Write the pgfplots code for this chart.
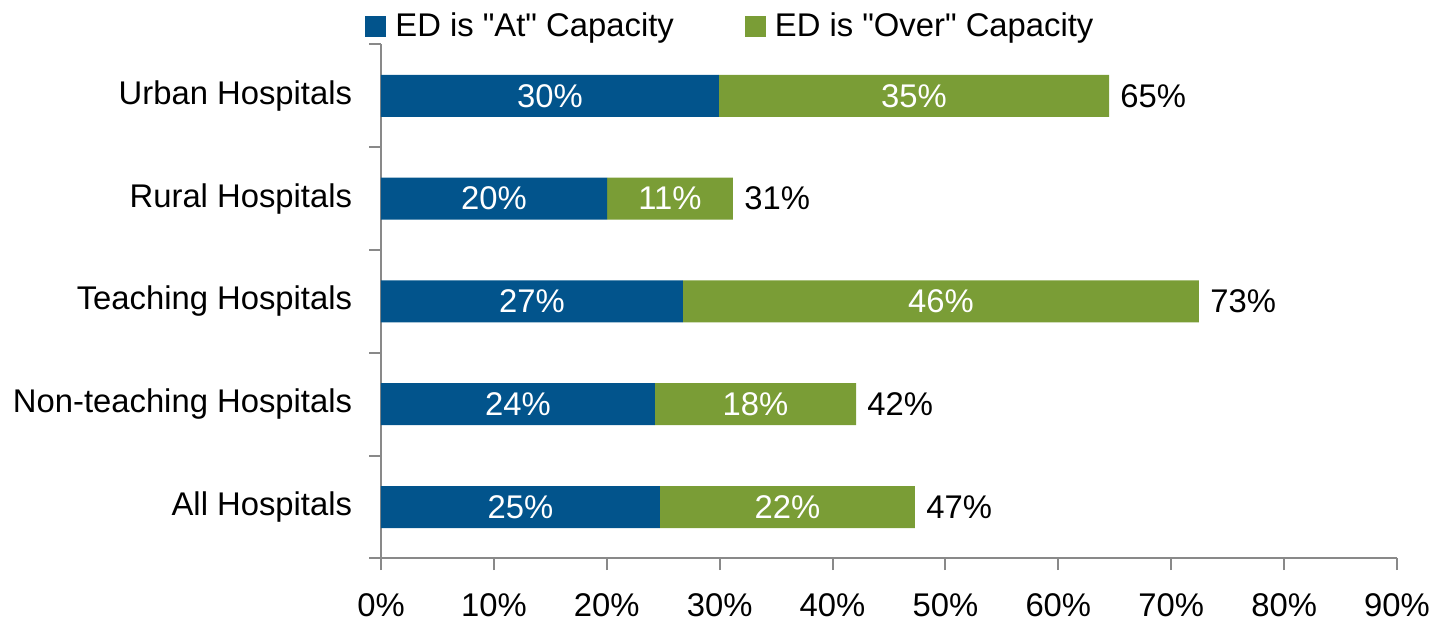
\documentclass[border=0pt]{standalone}
\usepackage{pgfplots}
\pgfplotsset{compat=1.18}
\usepackage{pgfplotstable}
\usepackage{fontspec}
\setmainfont{Liberation Sans}
\definecolor{atblue}{RGB}{2,84,140}
\definecolor{overgreen}{RGB}{122,157,54}
\definecolor{axgray}{RGB}{137,137,137}

\pgfplotstableread{
y at over atlab overlab totlab
0 24.71 22.59 25 22 47
1 24.27 17.81 24 18 42
2 26.75 45.71 27 46 73
3 20.02 11.16 20 11 31
4 29.94 34.55 30 35 65
}\datatable

\pgfplotsset{base/.style={
  scale only axis, width=508pt, height=257pt,
  xmin=0, xmax=90, ymin=-0.5, ymax=4.5,
}}

\begin{document}
\fontsize{16.4}{19.5}\selectfont
\begin{tikzpicture}
\begin{axis}[base,
  xbar stacked, bar width=21pt,
  axis lines*=left,
  axis line style={axgray, line width=1pt},
  xtick={0,10,...,90},
  xticklabels={0\%,10\%,20\%,30\%,40\%,50\%,60\%,70\%,80\%,90\%},
  ytick={0,1,2,3,4},
  yticklabels={All Hospitals, Non-teaching Hospitals, Teaching Hospitals, Rural Hospitals, Urban Hospitals},
  minor ytick={-0.5,0.5,...,4.5},
  tick align=outside,
  major y tick style={draw=none},
  minor y tick style={axgray, line width=1pt},
  major x tick style={axgray, line width=1pt},
  major tick length=5.8pt, minor tick length=5.8pt,
  xticklabel style={inner ysep=0pt, yshift=-11.4pt},
  yticklabel style={xshift=-3pt},
  legend style={draw=none, fill=none, at={(-0.01575,1.034)}, anchor=west,
    inner sep=0pt, nodes={inner sep=0pt},
    legend columns=2,
    /tikz/every odd column/.append style={column sep=4.5pt},
    /tikz/every even column/.append style={column sep=35.5pt}},
  legend image code/.code={\fill[#1] (0pt,-5.25pt) rectangle (10.5pt,5.25pt);},
]
\addplot[fill=atblue, draw=none] table[x=at, y=y] {\datatable};
\addplot[fill=overgreen, draw=none] table[x=over, y=y] {\datatable};
\legend{ED is \textquotedbl At\textquotedbl{} Capacity, ED is \textquotedbl Over\textquotedbl{} Capacity}
\end{axis}
\begin{axis}[base, hide axis, clip=false]
\addplot[draw=none, mark=none, nodes near coords={\pgfplotspointmeta\%}, point meta=explicit symbolic,
  nodes near coords style={anchor=center, text=white}]
  table[x expr=\thisrow{at}/2, y=y, meta=atlab] {\datatable};
\addplot[draw=none, mark=none, nodes near coords={\pgfplotspointmeta\%}, point meta=explicit symbolic,
  nodes near coords style={anchor=center, text=white}]
  table[x expr=\thisrow{at}+\thisrow{over}/2, y=y, meta=overlab] {\datatable};
\addplot[draw=none, mark=none, nodes near coords={\pgfplotspointmeta\%}, point meta=explicit symbolic,
  nodes near coords style={anchor=west, text=black}]
  table[x expr=\thisrow{at}+\thisrow{over}, y=y, meta=totlab] {\datatable};
\end{axis}
\pgfresetboundingbox
\useasboundingbox (-190.5pt,-31.5pt) rectangle (526pt,279.2pt);
\end{tikzpicture}
\end{document}
